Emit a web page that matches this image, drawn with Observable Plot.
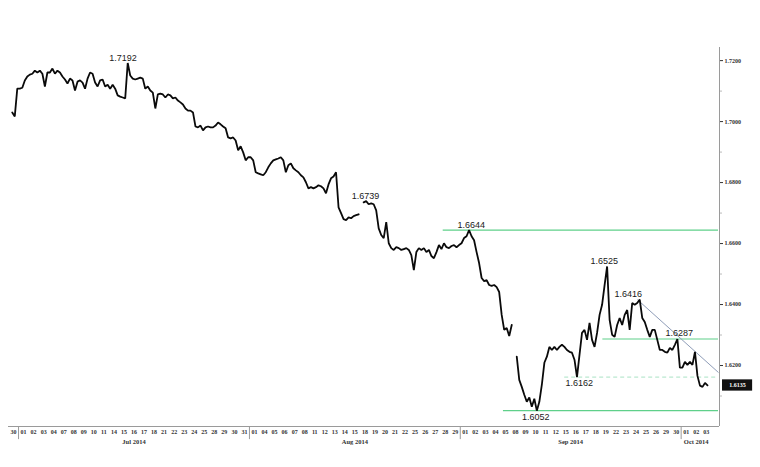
<!DOCTYPE html>
<html><head><meta charset="utf-8">
<script src="https://cdn.jsdelivr.net/npm/d3@7"></script>
<script src="https://cdn.jsdelivr.net/npm/@observablehq/plot@0.6"></script>
<style>body{margin:0;background:#fff}</style>
</head><body><div id="chart"></div>
<script>
// Trading days (Jun 30 – Oct 3 2014)
const days = ["30","01","02","03","04","07","08","09","10","11","14","15","16","17","18","21","22","23","24","25","28","29","30","31",
"01","04","05","06","07","08","11","12","13","14","15","18","19","20","21","22","25","26","27","28","29",
"01","02","03","04","05","08","09","10","11","12","15","16","17","18","19","22","23","24","25","26","29","30",
"01","02","03"];
const monthLabels = ["Jul 2014","Aug 2014","Sep 2014","Oct 2014"];
const monthStart = [1,24,45,67];
const monthEnd = [23,44,66,69];

// Intraday price, four readings per trading day (null = no data)
const prices = [
[null,1.7030,1.7017,1.7108],[1.7108,1.7111,1.7135,1.7148],[1.7154,1.7157,1.7167,1.7161],[1.7167,1.7157,1.7115,1.7161],
[1.7161,1.7174,1.7157,1.7167],[1.7161,1.7148,1.7138,1.7125],[1.7141,1.7135,1.7102,1.7131],[1.7135,1.7128,1.7108,1.7141],
[1.7161,1.7157,1.7128,1.7115],[1.7135,1.7138,1.7115,1.7121],[1.7108,1.7121,1.7108,1.7086],[1.7082,1.7079,1.7076,1.7192],
[1.7151,1.7141,1.7138,1.7141],[1.7144,1.7141,1.7108,1.7115],[1.7102,1.7095,1.7043,1.7089],[1.7092,1.7089,1.7079,1.7089],
[1.7086,1.7076,1.7079,1.7069],[1.7063,1.7056,1.7043,1.7036],[1.7036,1.7030,1.6984,1.6981],[1.6987,1.6971,1.6981,1.6984],
[1.6981,1.6981,1.6987,1.6997],[1.6991,1.6984,1.6978,1.6948],[1.6945,1.6948,1.6938,1.6906],[1.6919,1.6899,1.6873,1.6883],
[1.6883,1.6873,1.6834,1.6830],[1.6827,1.6824,1.6834,1.6850],[1.6863,1.6873,1.6876,1.6879],[1.6883,1.6873,1.6834,1.6857],
[1.6863,1.6847,1.6840,1.6834],[1.6824,1.6817,1.6801,1.6781],[1.6785,1.6781,1.6785,1.6791],[1.6788,1.6781,1.6765,1.6794],
[1.6814,1.6820,1.6834,1.6719],[1.6700,1.6680,1.6677,1.6686],[1.6683,1.6690,1.6693,1.6696],[null,1.6735,1.6739,1.6729],
[1.6732,1.6729,1.6709,1.6650],[1.6628,1.6618,1.6670,1.6601],[1.6585,1.6579,1.6588,1.6585],[1.6579,1.6582,1.6585,1.6579],
[1.6562,1.6513,1.6572,1.6585],[1.6579,1.6585,1.6572,1.6579],[1.6559,1.6552,1.6572,1.6595],[1.6582,1.6601,1.6588,1.6585],
[1.6592,1.6595,1.6588,1.6595],[1.6601,1.6618,1.6624,1.6644],[1.6624,1.6611,1.6572,1.6536],[1.6487,1.6477,1.6480,1.6464],
[1.6461,1.6464,1.6457,1.6441],[1.6366,1.6317,1.6323,1.6297],[1.6333,null,1.6229,1.6153],[1.6130,1.6104,1.6081,1.6095],
[1.6065,1.6091,1.6052,1.6081],[1.6137,1.6209,1.6229,1.6261],[1.6251,1.6261,1.6251,1.6261],[1.6268,1.6261,1.6251,1.6245],
[1.6242,1.6219,1.6162,1.6235],[1.6307,1.6317,1.6284,1.6340],[1.6284,1.6261,1.6307,1.6366],[1.6399,1.6464,1.6525,1.6350],
[1.6301,1.6294,1.6333,1.6356],[1.6333,1.6366,1.6382,1.6317],[1.6405,1.6399,1.6405,1.6416],[1.6356,1.6343,1.6317,1.6294],
[1.6317,1.6317,1.6284,1.6251],[1.6251,1.6245,1.6242,1.6258],[1.6251,1.6268,1.6287,1.6193],[1.6193,1.6212,1.6202,1.6212],
[1.6202,1.6245,1.6166,1.6134],[1.6130,1.6143,1.6135,null]
];

// Annotated extremes (highs labelled above, lows below)
const highTexts = ["1.7192","1.6739","1.6644","1.6525","1.6416","1.6287"];
const highDays = [11.4,35.55,46.1,59.35,61.73,66.81];
const lowTexts = ["1.6162","1.6052"];
const lowDays = [56.86,52.52];

// Horizontal levels and trendline
const levelValues = [1.6644,1.6287,1.6052];
const levelStartDays = [43.3,59.2,49.3];
const dashedLevel = 1.6162;
const dashedStartDay = 55.4;
const trendStart = {day:62.65, value:1.6416};
const trendEnd = {day:70.72, value:1.6177};
const lastPrice = 1.6135;

const yTicks = [1.62,1.64,1.66,1.68,1.70,1.72];
const yMinor = [1.61,1.63,1.65,1.67,1.69,1.71];

const flat = [];
prices.forEach((row,i)=>row.forEach((v,k)=>flat.push({t:i+0.125+0.25*k, v})));
const XEND = 70.82;

const tickFont = "Liberation Serif";
const chart = Plot.plot({
  width:760, height:467, marginLeft:8, marginRight:41, marginTop:47, marginBottom:41,
  x:{domain:[0,XEND], axis:null},
  y:{domain:[1.6,1.7243], axis:null},
  style:{background:"#fff", fontFamily:"Liberation Sans", overflow:"visible"},
  marks:[
    Plot.ruleY(levelValues, {y:d=>d, x1:(d,i)=>levelStartDays[i], x2:XEND-0.1, stroke:"#5fd08a", strokeWidth:1.2}),
    Plot.ruleY([dashedLevel], {y:d=>d, x1:dashedStartDay, x2:XEND-0.1, stroke:"#a9e2c4", strokeWidth:1, strokeDasharray:"4,3"}),
    Plot.link([0], {x1:trendStart.day, y1:trendStart.value, x2:trendEnd.day, y2:trendEnd.value, stroke:"#8f9db8", strokeWidth:1}),
    Plot.line(flat, {x:"t", y:"v", stroke:"#0a0a0a", strokeWidth:1.8, strokeLinejoin:"miter"}),
    Plot.ruleY([1.6], {stroke:"#9a9a9a", strokeWidth:1}),
    Plot.ruleX([XEND], {stroke:"#9a9a9a", strokeWidth:1}),
    Plot.ruleX(monthStart, {x:d=>d, y1:1.6, y2:1.5957, stroke:"#9a9a9a"}),
    Plot.text(days, {x:(d,i)=>i+0.5, y:1.6, dy:6, text:d=>d, fontSize:6, fontFamily:tickFont, fontWeight:"bold", fill:"#333"}),
    Plot.text(monthLabels, {x:(d,i)=>(monthStart[i]+monthEnd[i]+1)/2, y:1.6, dy:15, text:d=>d, fontSize:6.5, fontFamily:tickFont, fontWeight:"bold", fill:"#333"}),
    Plot.axisY({anchor:"right", label:null, ticks:yTicks, tickFormat:d=>d.toFixed(4), tickSize:3, tickPadding:2, fontSize:6, fontFamily:tickFont, fontWeight:"bold", stroke:"#333", fill:"#333"}),
    Plot.axisY({anchor:"right", label:null, ticks:yMinor, tickFormat:null, text:null, tickSize:2, stroke:"#bbb"}),
    Plot.text(highTexts, {x:(d,i)=>highDays[i], y:d=>+d, text:d=>d, fontSize:9, fill:"#1a1a1a", lineAnchor:"bottom", dy:-2.5}),
    Plot.text(lowTexts, {x:(d,i)=>lowDays[i], y:d=>+d, text:d=>d, fontSize:9, fill:"#1a1a1a", lineAnchor:"top", dy:2.5}),
    Plot.rect([lastPrice], {x1:XEND+0.3, x2:XEND+3.3, y1:d=>d-0.0019, y2:d=>d+0.0018, fill:"#111"}),
    Plot.text([lastPrice], {x:XEND+1.8, y:d=>d, text:d=>d.toFixed(4), fill:"#fff", fontSize:6, fontWeight:"bold", fontFamily:tickFont})
  ]
});
document.getElementById("chart").appendChild(chart);
</script>
</body></html>
